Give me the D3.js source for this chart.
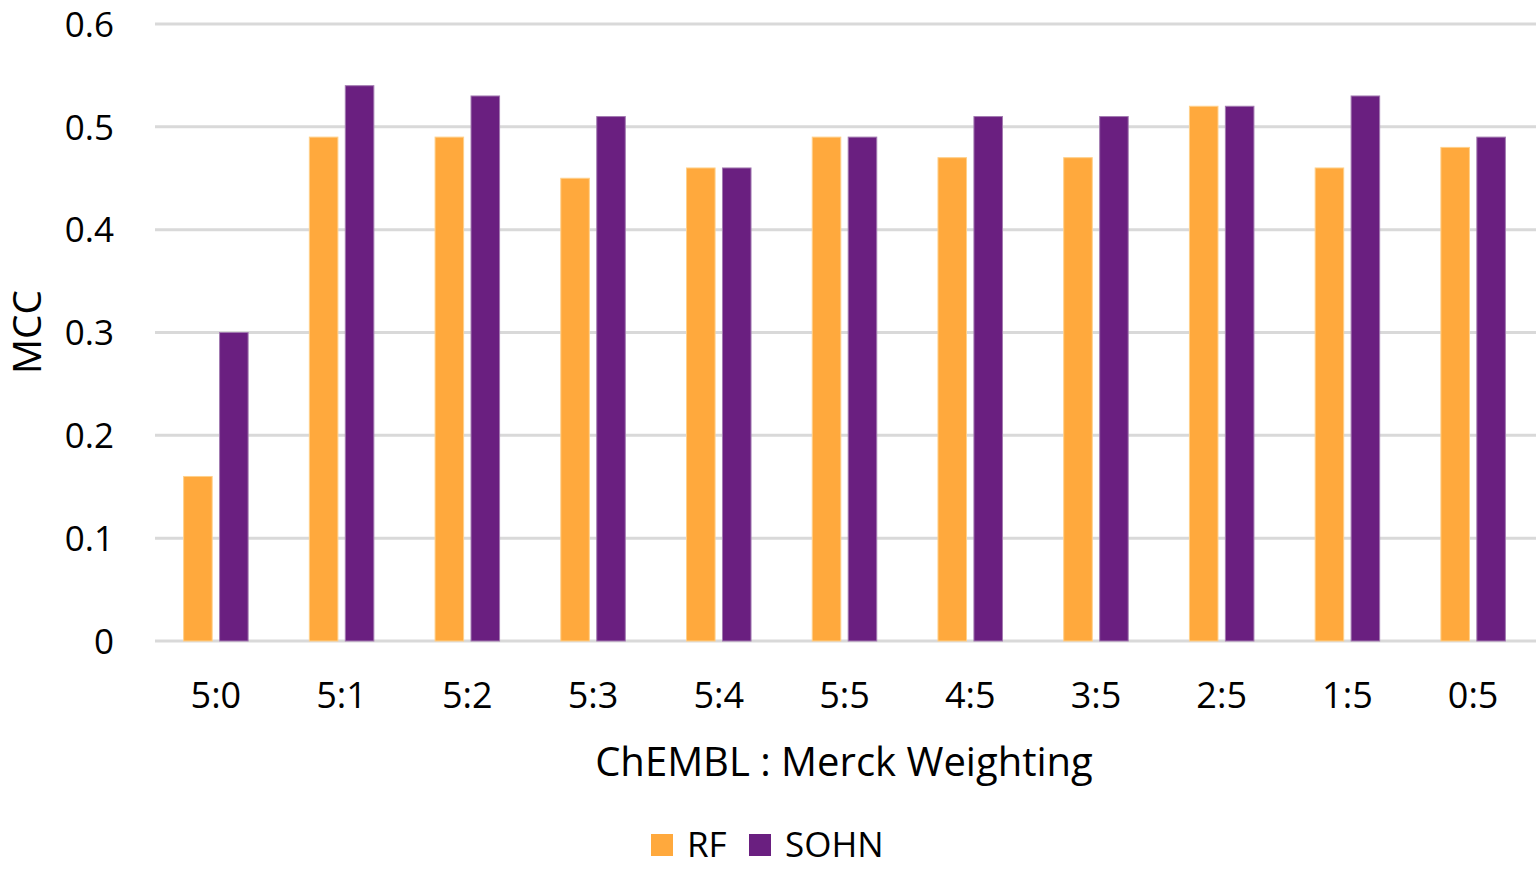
<!DOCTYPE html>
<html>
<head>
<meta charset="utf-8">
<script src="https://cdn.jsdelivr.net/npm/d3@7"></script>
<style>
  body { margin: 0; background: #fff; }
  svg text { font-family: "Open Sans", sans-serif; fill: #000; }
</style>
</head>
<body>
<svg id="chart" width="1536" height="870"></svg>
<script>
// chart data
const categories = ["5:0", "5:1", "5:2", "5:3", "5:4", "5:5", "4:5", "3:5", "2:5", "1:5", "0:5"];
const seriesNames = ["RF", "SOHN"];
const rfValues = [0.16, 0.49, 0.49, 0.45, 0.46, 0.49, 0.47, 0.47, 0.52, 0.46, 0.48];
const sohnValues = [0.30, 0.54, 0.53, 0.51, 0.46, 0.49, 0.51, 0.51, 0.52, 0.53, 0.49];
const yTicks = [0, 0.1, 0.2, 0.3, 0.4, 0.5, 0.6];

const colors = { RF: "#FFA93D", SOHN: "#6A1F80" };
const borders = { RF: "#FFD08A", SOHN: "#A27AB0" };

const svg = d3.select("#chart");

const plotLeft = 153, plotRight = 1536, plotTop = 24, plotBottom = 641;

// x band scale for groups
const x = d3.scaleBand()
  .domain(categories)
  .range([plotLeft, plotRight])
  .paddingInner(0.487)
  .paddingOuter(0.2435);

// inner scale for the two series
const x1 = d3.scaleBand()
  .domain(seriesNames)
  .range([0, x.bandwidth()])
  .paddingInner(0.206);

const y = d3.scaleLinear()
  .domain([0, 0.6])
  .range([plotBottom, plotTop]);

// gridlines
svg.append("g")
  .selectAll("line")
  .data(yTicks)
  .enter()
  .append("line")
  .attr("x1", 155)
  .attr("x2", plotRight)
  .attr("y1", d => y(d))
  .attr("y2", d => y(d))
  .attr("stroke", "#D9D9D9")
  .attr("stroke-width", 3);

// y axis labels
const yAxis = svg.append("g")
  .attr("transform", "translate(114,0)")
  .call(d3.axisLeft(y).tickValues(yTicks).tickSize(0).tickPadding(0).tickFormat(d => d === 0 ? "0" : d3.format(".1f")(d)));
yAxis.select(".domain").remove();
yAxis.selectAll("text")
  .attr("font-size", 35)
  .attr("font-family", "Open Sans, sans-serif")
  .attr("fill", "#000")
  .attr("dy", "0.35em");

// x axis labels
const xAxis = svg.append("g")
  .attr("transform", "translate(0," + plotBottom + ")")
  .call(d3.axisBottom(x).tickSize(0).tickPadding(0));
xAxis.select(".domain").remove();
xAxis.selectAll("text")
  .attr("font-size", 36)
  .attr("font-family", "Open Sans, sans-serif")
  .attr("fill", "#000")
  .attr("y", 54)
  .attr("dy", "0.35em");

// bars
const rows = categories.map((c, i) => ({ cat: c, RF: rfValues[i], SOHN: sohnValues[i] }));

const groups = svg.append("g")
  .selectAll("g")
  .data(rows)
  .enter()
  .append("g")
  .attr("transform", d => "translate(" + x(d.cat) + ",0)");

groups.selectAll("rect")
  .data(d => seriesNames.map(s => ({ key: s, value: d[s] })))
  .enter()
  .append("rect")
  .attr("x", d => x1(d.key))
  .attr("y", d => y(d.value))
  .attr("width", x1.bandwidth())
  .attr("height", d => y(0) - y(d.value))
  .attr("fill", d => colors[d.key])
  .attr("stroke", d => borders[d.key])
  .attr("stroke-width", 1);

// axis titles
svg.append("text")
  .attr("x", 844)
  .attr("y", 762)
  .attr("dy", "0.35em")
  .attr("text-anchor", "middle")
  .attr("font-size", 40)
  .text("ChEMBL : Merck Weighting");

svg.append("text")
  .attr("transform", "translate(27,332) rotate(-90)")
  .attr("dy", "0.35em")
  .attr("text-anchor", "middle")
  .attr("font-size", 39)
  .text("MCC");

// legend
const legendX = [651, 749];
const legend = svg.append("g")
  .selectAll("g")
  .data(seriesNames)
  .enter()
  .append("g")
  .attr("transform", (d, i) => "translate(" + legendX[i] + ",834)");

legend.append("rect")
  .attr("width", 22)
  .attr("height", 22)
  .attr("fill", d => colors[d]);

legend.append("text")
  .attr("x", 36)
  .attr("y", 11)
  .attr("dy", "0.35em")
  .attr("font-size", 35)
  .text(d => d);
</script>
</body>
</html>
